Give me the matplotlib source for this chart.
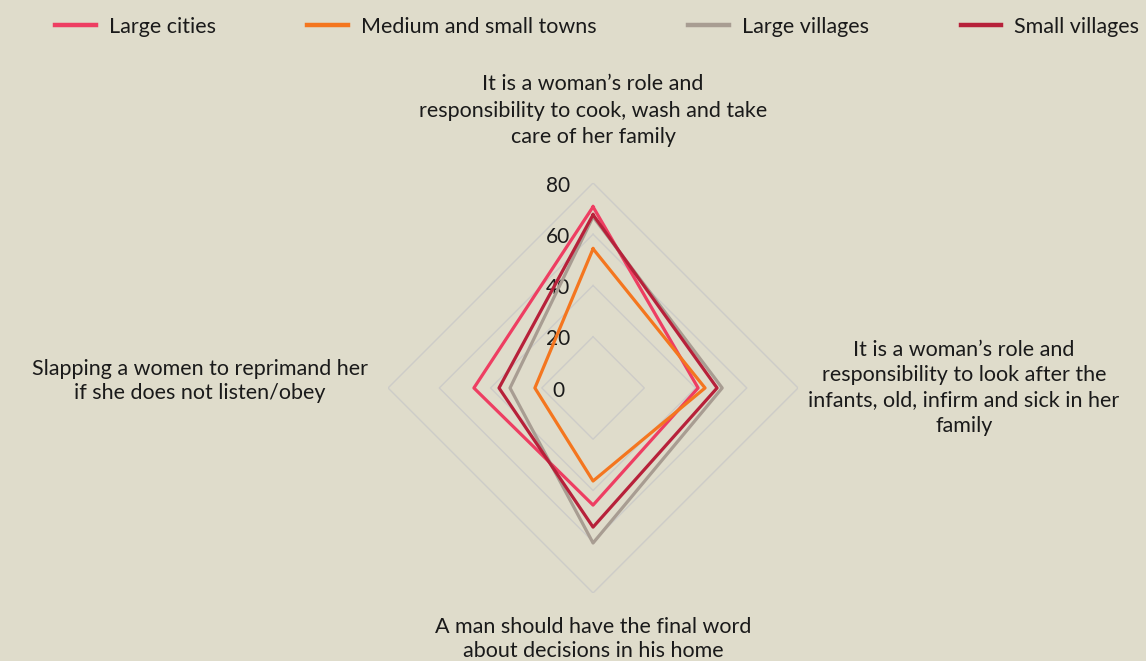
import numpy as np
import matplotlib
matplotlib.use("Agg")
import matplotlib.pyplot as plt

# -----------------------------
# Data
# -----------------------------
categories = [
    "It is a woman\u2019s role and\nresponsibility to cook, wash and take\ncare of her family",
    "It is a woman\u2019s role and\nresponsibility to look after the\ninfants, old, infirm and sick in her\nfamily",
    "A man should have the final word\nabout decisions in his home",
    "Slapping a women to reprimand her\nif she does not listen/obey",
]
series_names = ["Large cities", "Medium and small towns", "Large villages", "Small villages"]
large_cities = [70.7, 41.0, 45.7, 46.5]
medium_small_towns = [54.3, 43.7, 36.3, 22.7]
large_villages = [66.8, 50.4, 60.5, 32.4]
small_villages = [67.6, 48.4, 54.3, 36.7]
r_ticks = [0, 20, 40, 60, 80]

colors = ["#EE3E62", "#F4761F", "#A89D92", "#B7213A"]
bg = "#DFDCCB"
txt = "#1A1A1A"

plt.rcParams["font.family"] = ["Lato", "DejaVu Sans"]
plt.rcParams["font.size"] = 15.5

fig = plt.figure(figsize=(11.46, 6.61), dpi=100)
fig.patch.set_facecolor(bg)
ax = fig.add_axes([0.3386, 0.1029, 0.3578, 0.6203], polar=True)
ax.set_facecolor("none")
ax.set_theta_offset(np.pi / 2)
ax.set_theta_direction(-1)

n = len(categories)
ang = np.linspace(0, 2 * np.pi, n, endpoint=False).tolist()
ang_c = ang + ang[:1]

# grille en losange
for r in r_ticks[1:]:
    ax.plot(ang_c, [r] * (n + 1), color="#CDCCC8", lw=1.0, zorder=1)
for r in r_ticks:
    ax.annotate(str(r), (0, r), xytext=(-25, -2), textcoords="offset points",
                ha="center", va="center", fontsize=15, color=txt, zorder=2,
                annotation_clip=False)

data = [large_cities, medium_small_towns, large_villages, small_villages]
order = [2, 3, 1, 0]
for i in order:
    vals = data[i] + data[i][:1]
    ax.plot(ang_c, vals, color=colors[i], lw=2.3, label=series_names[i], zorder=3 + i)

ax.set_ylim(0, 80)
ax.grid(False)
ax.spines["polar"].set_visible(False)
ax.set_xticks([])
ax.set_yticks([])

# libellés des catégories
ax.text(ang[0], 94, categories[0], ha="center", va="bottom", multialignment="center",
        color=txt, linespacing=1.4)
ax.text(ang[1], 84, categories[1], ha="left", va="center", multialignment="center",
        color=txt, linespacing=1.32)
ax.text(ang[2], 89.5, categories[2], ha="center", va="top", multialignment="center",
        color=txt, linespacing=1.22)
ax.annotate(categories[3], (ang[3], 88), xytext=(0, 5), textcoords="offset points",
            ha="right", va="center", multialignment="center",
            color=txt, linespacing=1.3, annotation_clip=False)

handles, labels = ax.get_legend_handles_labels()
hl = dict(zip(labels, handles))
leg = fig.legend([hl[s] for s in series_names], series_names, loc="upper left",
                 bbox_to_anchor=(0.048, 0.975), ncol=4, frameon=False,
                 borderpad=0, borderaxespad=0,
                 handlelength=1.9, handletextpad=0.6, columnspacing=4.25,
                 fontsize=15.5)
for t in leg.get_texts():
    t.set_color(txt)
for h in leg.get_lines():
    h.set_linewidth(3.2)

fig.savefig("out.png", dpi=100, facecolor=bg)
